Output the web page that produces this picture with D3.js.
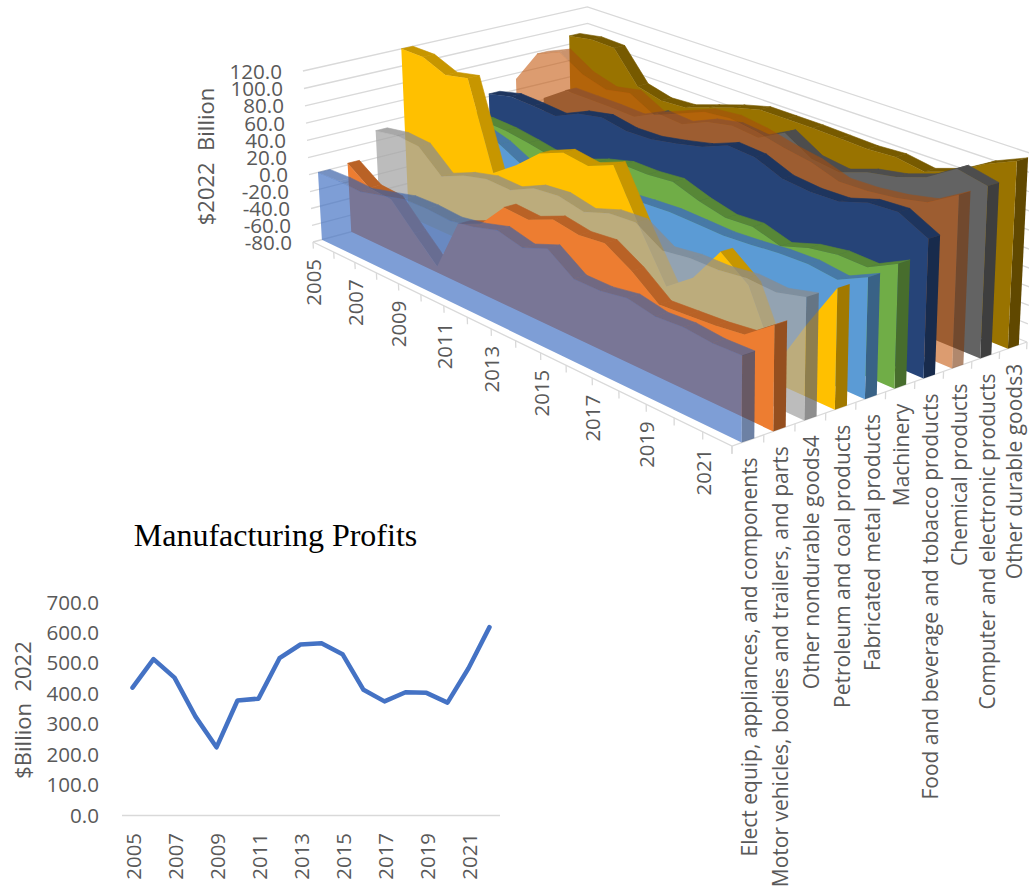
<!DOCTYPE html>
<html><head><meta charset="utf-8"><style>html,body{margin:0;background:#fff}svg{display:block}</style>
<script src="https://cdn.jsdelivr.net/npm/d3@7"></script></head><body><svg id="c" width="1029" height="888"></svg>
<script>
const years=d3.range(2005,2023);
const names=["Elect equip, appliances, and components","Motor vehicles, bodies and trailers, and parts","Other nondurable goods4","Petroleum and coal products","Fabricated metal products","Machinery","Food and beverage and tobacco products","Chemical products","Computer and electronic products","Other durable goods3"];
const colors=["#4472C4","#ED7D31","#A5A5A5","#FFC000","#5B9BD5","#70AD47","#264478","#C55A11","#636363","#997300"];
const alpha=[.69,1,.75,1,1,1,1,.6,1,1];
const electEquip=[0,1,0,7,14,15,13,18,26,19,30,10,10,15,9,11,8,9];
const motorVehicles=[2,-16,-18,-46,-73,-12,0,30,28,40,35,38,21,-2,0,2,6,29];
const otherNondurable=[32,37,35,11,23,30,29,42,45,39,49,51,33,37,37,41,39,47];
const petroleum=[120,120,109,115,17,37,61,73,69,81,24,-28,-6,34,11,-60,-5,46];
const fabricated=[40,42,39,31,17,18,21,24,27,30,32,31,30,32,35,36,32,47];
const machinery=[28,29,28,24,19,23,34,42,42,45,35,28,30,21,31,36,35,51];
const food=[43,50,49,47,60,66,61,62,68,75,87,85,73,70,71,81,83,67];
const chemical=[53,93,105,88,80,86,71,83,95,98,94,87,82,72,73,77,84,103];
const computer=[22,41,41,41,40,54,52,65,71,68,84,66,62,73,79,90,110,103];
const otherDurable=[90,95,94,58,51,53,63,73,81,81,81,80,79,81,76,87,106,120];
const vals=[electEquip,motorVehicles,otherNondurable,petroleum,fabricated,machinery,food,chemical,computer,otherDurable];
const profits=[420,514,453,325,224,378,384,517,562,566,530,413,375,405,403,371,484,619];
const zTicks=d3.range(-80,121,20);
const profitTicks=d3.range(0,701,100);
const labelYears=years.filter(y=>y%2===1);
const FONT="'Open Sans',sans-serif",GREY="#595959";
// camera
const A=[313,242],B=[732,446],C=[1027,342],D=[590,168],VP=[700,6800];
const dx1=B[0]-C[0],dx2=D[0]-C[0],sx=A[0]-B[0]+C[0]-D[0],dy1=B[1]-C[1],dy2=D[1]-C[1],sy=A[1]-B[1]+C[1]-D[1];
const den=dx1*dy2-dx2*dy1,g=(sx*dy2-dx2*sy)/den,h=(dx1*sy-sx*dy1)/den;
const a0=B[0]*(1+g)-A[0],a1=D[0]*(1+h)-A[0],b0=B[1]*(1+g)-A[1],b1=D[1]*(1+h)-A[1];
const t=-(A[1]-71)/(VP[1]-71);
const proj=(u,v,z)=>{const w=1+g*u+h*v+t*z;return[(A[0]+a0*u+a1*v+t*z*VP[0])/w,(A[1]+b0*u+b1*v+t*z*VP[1])/w]};
const U=d3.scalePoint().domain(years).range([0,1]);
const Vb=d3.scaleBand().domain(names).range([0,1]).paddingInner(.6).paddingOuter(.3);
const Z=d3.scaleLinear().domain([-80,120]).range([0,1]);
const svg=d3.select("#c");const line=d3.line();
const grid=svg.append("g").attr("fill","none").attr("stroke","#d9d9d9").attr("stroke-width",1.3);
zTicks.forEach(k=>{const z=Z(k);grid.append("path").attr("d",line([proj(0,0,z),proj(0,1,z),proj(1,1,z)]))});
grid.append("path").attr("d",line([proj(0,0,0),proj(1,0,0),proj(1,1,0)]));
years.forEach(y=>grid.append("path").attr("d",line([proj(U(y),0,0),proj(U(y),0,-.04)])));
d3.range(0,11).forEach(k=>grid.append("path").attr("d",line([proj(1,k/10,0),proj(1,k/10,-.04)])));
function shade(c,f){const r=d3.rgb(c);return d3.rgb(r.r*f,r.g*f,r.b*f).formatHex()}
const area=q=>d3.polygonArea(q);
names.map((n,i)=>i).reverse().forEach(i=>{
 const n=names[i],v=Vb(n),b=v+Vb.bandwidth(),d=vals[i],c=colors[i];
 const tg=svg.append("g").attr("opacity",alpha[i]);
 const tc=shade(c,alpha[i]<1?.85:.78);
 for(let j=d.length-2;j>=0;j--){const u0=U(years[j]),u1=U(years[j+1]),z0=Z(d[j]),z1=Z(d[j+1]);
  const q=[proj(u0,v,z0),proj(u1,v,z1),proj(u1,b,z1),proj(u0,b,z0)];
  const flat=[proj(u0,v,z0),proj(u1,v,z0),proj(u1,b,z0),proj(u0,b,z0)];
  if(area(q)*area(flat)<=0)continue;
  tg.append("path").attr("d",line(q)+"Z").attr("fill",tc).attr("stroke",tc).attr("stroke-width",.6)}
 svg.append("path").attr("opacity",alpha[i]).attr("d",line([proj(1,v,0),proj(1,b,0),proj(1,b,Z(d[17])),proj(1,v,Z(d[17]))])+"Z").attr("fill",shade(c,.63));
 const pts=[proj(0,v,0)].concat(years.map((y,j)=>proj(U(y),v,Z(d[j]))),[proj(1,v,0)]);
 svg.append("path").attr("opacity",alpha[i]).attr("d",line(pts)+"Z").attr("fill",c);
});
const txt=(x,y,s,size,anchor,rot,fam,fill)=>{const e=svg.append("text").attr("text-anchor",anchor).attr("dominant-baseline","central").attr("font-family",fam||FONT).attr("font-size",size).attr("fill",fill||GREY).text(s);
 e.attr("transform",`translate(${x},${y})`+(rot?` rotate(${rot})`:""));return e};
zTicks.forEach(k=>{const p=proj(0,0,Z(k));txt(p[0]-21,p[1]-.5,k.toFixed(1),20.6,"end")});
txt(204.5,156.5,"$2022\u00A0\u00A0Billion",22,"middle",-90);
labelYears.forEach(y=>{const p=proj(U(y),0,0);txt(p[0],p[1]+17,y,20.4,"end",-90)});
names.forEach(n=>{const p=proj(1,Vb(n)+Vb.bandwidth()/2,0);txt(p[0]+1,p[1]+17,n,21,"end",-90)});
// lower chart
const lx=d3.scaleBand().domain(years).range([122,500]);
const ly=d3.scaleLinear().domain([0,700]).range([815.5,602.5]);
const lg=svg.append("g");
lg.append("line").attr("x1",122).attr("x2",500).attr("y1",ly(0)).attr("y2",ly(0)).attr("stroke","#d9d9d9").attr("stroke-width",1.3);
lg.append("path").attr("d",d3.line().x((d,i)=>lx(years[i])+lx.bandwidth()/2).y(d=>ly(d))(profits)).attr("fill","none").attr("stroke","#4472C4").attr("stroke-width",4.5).attr("stroke-linejoin","round").attr("stroke-linecap","round");
profitTicks.forEach(k=>txt(99,ly(k)-1,k.toFixed(1),20.6,"end"));
labelYears.forEach(y=>txt(lx(y)+lx.bandwidth()/2+.5,833,y,20.4,"end",-90));
txt(22,710,"$Billion\u00A0\u00A02022",22,"middle",-90);
txt(275.5,535,"Manufacturing Profits",32,"middle",0,"'Liberation Serif',serif","#000");
</script></body></html>
